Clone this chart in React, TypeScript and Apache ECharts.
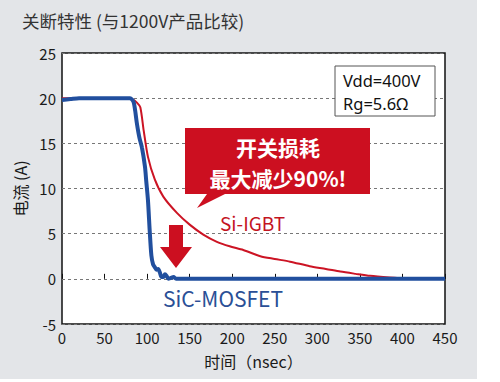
import React, { useEffect, useRef } from "react";
import * as echarts from "echarts";

const igbtT = [0, 20, 40, 60, 78, 84, 88, 92, 96, 101, 109, 119, 135, 150, 166, 182, 197, 213, 233, 250, 268, 291, 310, 327, 345, 362, 385, 405, 420, 450];
const igbtI = [20, 20, 20, 20, 20, 19.8, 19.5, 19.0, 16.4, 13.5, 11.0, 9.1, 7.3, 6.0, 4.9, 4.1, 3.6, 3.2, 2.5, 2.2, 1.9, 1.4, 1.1, 0.8, 0.55, 0.33, 0.15, 0.03, 0, 0];
const sicT = [0, 10, 20, 75, 80, 84, 86, 88, 91, 94, 97.5, 99, 101, 103, 105, 107, 109, 111, 113, 115, 117, 119, 121, 123, 125, 128, 131, 134, 140, 450];
const sicI = [19.8, 19.9, 20, 20, 20, 19.6, 18.6, 17.2, 15.6, 14.5, 12.4, 10.8, 8.7, 5.4, 2.6, 1.6, 1.3, 1.0, 1.1, 0.7, 0.2, 0.2, 0.5, 0.3, 0, 0.1, 0.2, 0, 0, 0];
const yTicks = [-5, 0, 5, 10, 15, 20, 25];
const xTicks = [0, 50, 100, 150, 200, 250, 300, 350, 400, 450];

const FONT = "'Noto Sans CJK SC', 'Noto Sans', sans-serif";
const LATIN = "'Noto Sans', 'Noto Sans CJK SC', sans-serif";

export default function App() {
  const ref = useRef<HTMLDivElement>(null);
  useEffect(() => {
    document.body.style.margin = "0";
    const chart = echarts.init(ref.current!, null, { renderer: "svg" });
    chart.setOption({
      animation: false,
      backgroundColor: "#ffffff",
      textStyle: { fontFamily: FONT },
      grid: {
        left: 62, right: 55, top: 53, bottom: 58,
        show: true, backgroundColor: "#ffffff", borderColor: "#111", borderWidth: 1.5,
      },
      xAxis: {
        type: "value", min: xTicks[0], max: xTicks[xTicks.length - 1], interval: 50,
        axisLine: { show: false },
        axisTick: { show: true, inside: true, length: 5, lineStyle: { color: "#111" } },
        splitLine: { show: false },
        axisLabel: { color: "#1a1a1a", fontSize: 15, margin: 6, fontFamily: FONT },
        name: "时间（nsec）", nameLocation: "middle", nameGap: 29,
        nameTextStyle: { color: "#1a1a1a", fontSize: 16, fontFamily: FONT },
      },
      yAxis: {
        type: "value", min: yTicks[0], max: yTicks[yTicks.length - 1], interval: 5,
        axisLine: { show: false },
        axisTick: { show: false },
        splitLine: { show: true, lineStyle: { color: "#777", type: [3, 3], width: 1 } },
        axisLabel: { color: "#1a1a1a", fontSize: 15, margin: 6, fontFamily: FONT },
        name: "电流 (A)", nameLocation: "middle", nameGap: 34,
        nameTextStyle: { color: "#1a1a1a", fontSize: 16, fontFamily: FONT },
      },
      series: [
        {
          name: "Si-IGBT", type: "line", smooth: 0.25, showSymbol: false, clip: true,
          data: igbtT.map((t, i) => [t, igbtI[i]]),
          lineStyle: { color: "#cc1424", width: 2 }, z: 2,
        },
        {
          name: "SiC-MOSFET", type: "line", smooth: 0.25, showSymbol: false, clip: true,
          data: sicT.map((t, i) => [t, sicI[i]]),
          lineStyle: { color: "#214f9e", width: 4 }, z: 3,
        },
      ],
      graphic: [
        { type: "rect", z: -10, silent: true, shape: { x: 0, y: 0, width: 477, height: 379 }, style: { fill: "#e3e5e8" } },
        { type: "text", left: 22, top: 12, style: { text: "关断特性 (与1200V产品比较)", fill: "#333", fontSize: 17.5, fontFamily: FONT } },
        { type: "rect", z: 10, shape: { x: 335, y: 66, width: 100, height: 50 }, style: { fill: "#fff", stroke: "#555", lineWidth: 1 } },
        { type: "text", z: 11, x: 343, y: 92, style: { text: "Vdd=400V\nRg=5.6Ω", fill: "#111", fontSize: 16.5, lineHeight: 23, verticalAlign: "middle", fontFamily: LATIN } },
        {
          type: "polygon", z: 10,
          shape: { points: [[185, 128], [370, 128], [370, 194], [225, 194], [197, 208], [207, 194], [185, 194]] },
          style: { fill: "#cc0f20" },
        },
        { type: "text", z: 11, x: 278, y: 162.5, style: { text: "开关损耗\n最大减少90%!", fill: "#fff", fontSize: 21, lineHeight: 31, fontWeight: "bold", align: "center", verticalAlign: "middle", fontFamily: FONT } },
        {
          type: "polygon", z: 10,
          shape: { points: [[169, 225], [183, 225], [183, 247], [192, 247], [176, 268], [160, 247], [169, 247]] },
          style: { fill: "#cc0f20" },
        },
        { type: "text", z: 11, x: 220, y: 222, style: { text: "Si-IGBT", fill: "#c4141f", fontSize: 19, verticalAlign: "middle", fontFamily: FONT } },
        { type: "text", z: 11, x: 163, y: 298, style: { text: "SiC-MOSFET", fill: "#2a4f96", fontSize: 21, verticalAlign: "middle", fontFamily: FONT } },
      ],
    });
    return () => chart.dispose();
  }, []);
  return <div ref={ref} style={{ width: 500, height: 382 }} />;
}
